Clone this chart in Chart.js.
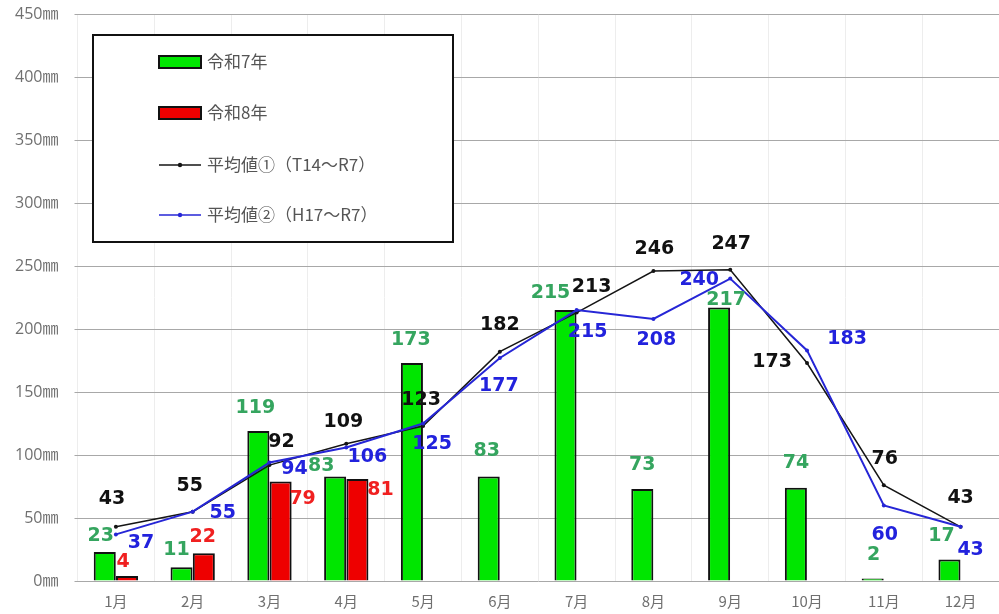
<!DOCTYPE html>
<html><head><meta charset="utf-8">
<script src="https://cdn.jsdelivr.net/npm/chart.js@4/dist/chart.umd.min.js"></script>
<style>html,body{margin:0;padding:0;background:#fff;overflow:hidden;}#wrap{width:999px;height:614px;position:relative;}canvas{display:block;}</style>
</head><body><div id="wrap"><canvas id="c"></canvas></div>
<script>
const months = ['1月','2月','3月','4月','5月','6月','7月','8月','9月','10月','11月','12月'];
const r7 = [23,11,119,83,173,83,215,73,217,74,2,17];
const r8 = [4,22,79,81,null,null,null,null,null,null,null,null];
const avg1 = [43,55,92,109,123,182,213,246,247,173,76,43];
const avg2 = [37,55,94,106,125,177,215,208,240,183,60,43];
const seriesNames = ['令和7年','令和8年','平均値①（T14～R7）','平均値②（H17～R7）'];
const yUnit = '㎜';

// label placement (style only)
const labelStyle = [
  {color:'#35A55F', off:[[-4,-16],[-5,-17],[-3,-23],[-14,-10],[-1,-23],[-2,-25],[-15,-17],[0,-24],[7,-8],[0,-25],[1,-23],[-8,-24]]},
  {color:'#F02020', off:[[-4,-14],[-1,-16],[22,18],[23,11]]},
  {color:'#111111', off:[[-4,-28],[-3,-26],[12,-23],[-3,-22],[-2,-26],[0,-27],[15,-26],[1,-22],[1,-26],[-35,-1],[1,-26],[0,-29]]},
  {color:'#2222DD', off:[[25,9],[30,1],[25,7],[21,10],[9,21],[-1,28],[11,22],[3,21],[-31,1],[40,-11],[1,30],[10,23]]}
];

const labelPlugin = {
  id:'valLabels',
  afterDatasetsDraw(chart){
    const ctx = chart.ctx;
    ctx.save();
    ctx.font = 'bold 19px "DejaVu Sans"';
    ctx.textAlign = 'center';
    ctx.textBaseline = 'middle';
    chart.data.datasets.forEach((ds, di) => {
      const meta = chart.getDatasetMeta(di);
      const st = labelStyle[di];
      meta.data.forEach((el, i) => {
        const v = ds.data[i];
        if (v === null || v === undefined) return;
        const o = st.off[i] || [0,-20];
        ctx.fillStyle = st.color;
        ctx.fillText(String(v), el.x + o[0], el.y + o[1]);
      });
    });
    ctx.restore();
  }
};

const legendPlugin = {
  id:'boxLegend',
  afterDraw(chart){
    const ctx = chart.ctx;
    ctx.save();
    ctx.fillStyle = '#fff';
    ctx.fillRect(93,35,360,207);
    ctx.lineWidth = 2;
    ctx.strokeStyle = '#111';
    ctx.strokeRect(93,35,360,207);
    const ys = [62,113,165,215];
    chart.data.datasets.forEach((ds, i) => {
      const y = ys[i];
      if (ds.type === 'bar') {
        ctx.fillStyle = ds.backgroundColor;
        ctx.fillRect(159,y-6,42,12);
        ctx.lineWidth = 2; ctx.strokeStyle = '#111';
        ctx.strokeRect(159,y-6,42,12);
      } else {
        ctx.strokeStyle = ds.borderColor; ctx.lineWidth = 1.5;
        ctx.beginPath(); ctx.moveTo(159,y); ctx.lineTo(201,y); ctx.stroke();
        ctx.fillStyle = ds.borderColor;
        ctx.beginPath(); ctx.arc(180,y,2.2,0,Math.PI*2); ctx.fill();
      }
      ctx.fillStyle = '#555';
      ctx.font = '17px "Noto Sans CJK JP"';
      ctx.textAlign = 'left'; ctx.textBaseline = 'middle';
      ctx.fillText(ds.label, 207, y);
    });
    ctx.restore();
  }
};

new Chart(document.getElementById('c'), {
  data: {
    labels: months,
    datasets: [
      {type:'bar', label:seriesNames[0], data:r7, backgroundColor:'#00E600', borderColor:'#111', borderWidth:2, order:3, categoryPercentage:0.58, barPercentage:0.99},
      {type:'bar', label:seriesNames[1], data:r8, backgroundColor:'#EE0000', borderColor:'#111', borderWidth:2, order:4, categoryPercentage:0.58, barPercentage:0.99},
      {type:'line', label:seriesNames[2], data:avg1, borderColor:'#151515', backgroundColor:'#151515', borderWidth:1.5, pointRadius:2, pointBorderWidth:0, tension:0, order:2},
      {type:'line', label:seriesNames[3], data:avg2, borderColor:'#2626D6', backgroundColor:'#2626D6', borderWidth:2, pointRadius:2, pointBorderWidth:0, tension:0, order:1}
    ]
  },
  options: {
    responsive:true, maintainAspectRatio:false, animation:false,
    layout:{autoPadding:false, padding:{top:14,right:0,left:0,bottom:0}},
    plugins:{legend:{display:false}, tooltip:{enabled:false}},
    scales:{
      x:{
        offset:true,
        grid:{offset:true, color:'#EDEDED', drawTicks:false},
        border:{display:false},
        ticks:{color:'#707070', font:{family:'"Noto Sans CJK JP"', size:15}, padding:11, maxRotation:0},
        afterFit(s){ s.height = 33; s.paddingRight = 0; s.paddingLeft = 0; }
      },
      y:{
        min:0, max:450,
        grid:{color:'#A8A8A8', tickLength:3},
        border:{display:false},
        ticks:{stepSize:50, color:'#707070', padding:16, font:{family:'"Open Sans","Noto Sans CJK JP"', size:16},
          callback:(v)=> v + yUnit},
        afterFit(s){ s.width = 77.5; s.paddingTop = 0; s.paddingBottom = 0; s.paddingRight = 0; }
      }
    }
  },
  plugins:[labelPlugin, legendPlugin]
});
</script></body></html>
